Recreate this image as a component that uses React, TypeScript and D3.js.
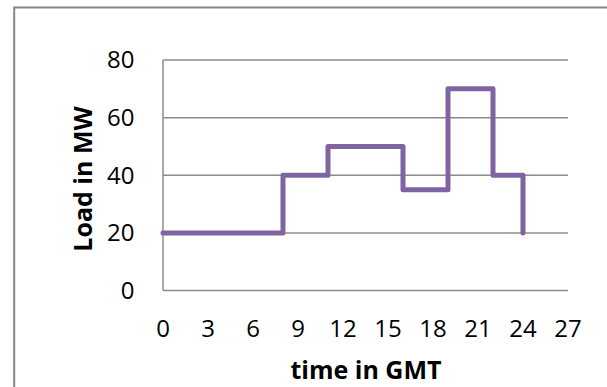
import React from "react";
import * as d3 from "d3";

const hours = [0, 8, 11, 16, 19, 22, 24];
const loadMW = [20, 40, 50, 35, 70, 40, 20];
const xTicks = [0, 3, 6, 9, 12, 15, 18, 21, 24, 27];
const yTicks = [0, 20, 40, 60, 80];
const xTitle = "time in GMT";
const yTitle = "Load in MW";

export default function App() {
  const W = 607, H = 387;
  const x = d3.scaleLinear().domain([0, 27]).range([163, 568]);
  const y = d3.scaleLinear().domain([0, 80]).range([290.5, 60]);
  const pts = hours.map((h, i) => [h, loadMW[i]] as [number, number]);
  const line = d3
    .line<[number, number]>()
    .x((d) => x(d[0]))
    .y((d) => y(d[1]))
    .curve(d3.curveStepAfter);
  const font = "'Open Sans', sans-serif";
  return (
    <svg
      width={W}
      height={H}
      style={{ position: "absolute", left: 0, top: 0, background: "#fff" }}
    >
      <rect x={14.2} y={7.5} width={W} height={H} fill="#fff" stroke="#868686" strokeWidth={2} />
      {yTicks.map((t) => (
        <line key={t} x1={x(0)} x2={x(27)} y1={y(t)} y2={y(t)} stroke="#8c8c8c" strokeWidth={1.5} />
      ))}
      <line x1={x(0)} x2={x(0)} y1={y(0)} y2={y(80)} stroke="#8c8c8c" strokeWidth={1.5} />
      {yTicks.map((t) => (
        <text key={t} x={134.5} y={y(t)} dy="0.35em" textAnchor="end" fontFamily={font} fontSize={24} fill="#000">
          {t}
        </text>
      ))}
      {xTicks.map((t) => (
        <text key={t} x={x(t)} y={329} dy="0.35em" textAnchor="middle" fontFamily={font} fontSize={24} fill="#000">
          {t}
        </text>
      ))}
      <path d={line(pts) || ""} fill="none" stroke="#8064a2" strokeWidth={5} strokeLinejoin="round" strokeLinecap="round" />
      <text x={366} y={370} dy="0.35em" textAnchor="middle" fontFamily={font} fontSize={25} fontWeight="bold" fill="#000">
        {xTitle}
      </text>
      <text
        transform={`translate(83,179) rotate(-90)`}
        dy="0.35em"
        textAnchor="middle"
        fontFamily={font}
        fontSize={25}
        fontWeight="bold"
        fill="#000"
      >
        {yTitle}
      </text>
    </svg>
  );
}
